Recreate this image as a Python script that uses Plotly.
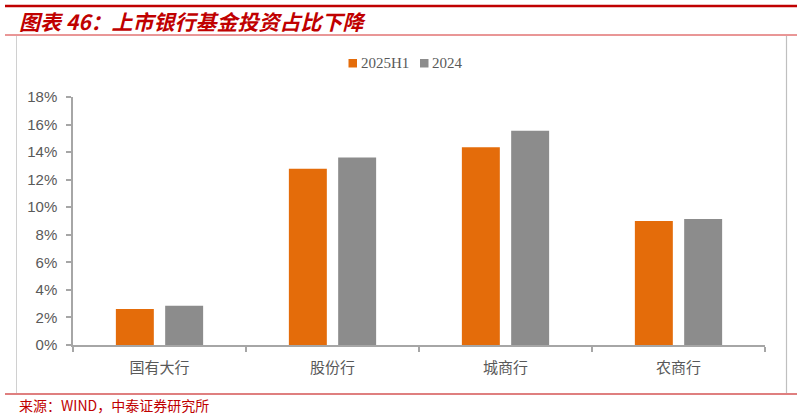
import plotly.graph_objects as go

# data (percent)
categories = ["国有大行", "股份行", "城商行", "农商行"]
h1_2025 = [2.61, 12.8, 14.35, 9.0]
y2024 = [2.85, 13.6, 15.55, 9.15]
series_names = ["2025H1", "2024"]
series_colors = ["#E46C0A", "#8C8C8C"]

W, H = 803, 417
ml, mr, mt, mb = 73, 38, 97, 72
pw, ph = W - ml - mr, H - mt - mb

RED = "#C00000"
AXIS = "#A6A6A6"
TXT = "#595959"


def px(x):
    return (x - ml) / pw


def py(y):
    return (H - mb - y) / ph


fig = go.Figure()
for name, vals, col in zip(series_names, [h1_2025, y2024], series_colors):
    fig.add_trace(go.Bar(x=categories, y=vals, name=name,
                         marker=dict(color=col, line=dict(width=0))))

fig.update_layout(
    width=W, height=H,
    margin=dict(l=ml, r=mr, t=mt, b=mb, pad=0),
    paper_bgcolor="white", plot_bgcolor="white",
    barmode="group", bargap=0.43, bargroupgap=0.23,
    showlegend=False,
    font=dict(family="Liberation Sans, Noto Sans CJK SC", size=14, color=TXT),
)

fig.update_xaxes(
    showline=True, linecolor=AXIS, linewidth=1.5,
    ticks="outside", tickson="boundaries", ticklen=5, tickcolor=AXIS, tickwidth=1.5,
    tickfont=dict(family="Noto Sans CJK SC", size=15, color=TXT),
    ticklabelstandoff=8, showgrid=False, zeroline=False,
)
fig.update_yaxes(
    range=[0, 18], tick0=0, dtick=2, ticksuffix="%",
    showline=True, linecolor=AXIS, linewidth=1.5,
    ticks="outside", ticklen=5, tickcolor=AXIS, tickwidth=1.5,
    tickfont=dict(family="Liberation Sans", size=15, color=TXT),
    ticklabelstandoff=6, showgrid=False, zeroline=False,
)

# frame of the exhibit: red rules and grey side borders
shapes = [
    dict(type="line", x0=px(5), x1=px(797), y0=py(6), y1=py(6), line=dict(color=RED, width=2.5)),
    dict(type="line", x0=px(5), x1=px(797), y0=py(35), y1=py(35), line=dict(color="#D32F2F", width=1)),
    dict(type="line", x0=px(16.5), x1=px(16.5), y0=py(36), y1=py(393), line=dict(color="#D0D0D0", width=1)),
    dict(type="line", x0=px(786.5), x1=px(786.5), y0=py(36), y1=py(393), line=dict(color="#BFBFBF", width=1.2)),
    dict(type="line", x0=px(5), x1=px(797), y0=py(394), y1=py(394), line=dict(color=RED, width=1.2)),
]
# legend drawn by hand so the square/text spacing matches
legend_x = [348.5, 420]
for lx, name, col in zip(legend_x, series_names, series_colors):
    shapes.append(dict(type="rect", x0=px(lx), x1=px(lx + 8.5), y0=py(59), y1=py(67.5),
                       fillcolor=col, line=dict(width=0)))
    fig.add_annotation(text=name, xref="paper", yref="paper", x=px(lx + 10.5), y=py(63),
                       xanchor="left", yanchor="middle", showarrow=False,
                       font=dict(family="Liberation Serif", size=15, color=TXT))
for s in shapes:
    s.update(xref="paper", yref="paper", layer="above")
fig.update_layout(shapes=shapes)

fig.add_annotation(
    text="<i><b>图表 46：上市银行基金投资占比下降</b></i>",
    xref="paper", yref="paper", x=px(17), y=py(21), xanchor="left", yanchor="middle",
    showarrow=False, font=dict(family="Noto Sans CJK SC", size=21, color=RED),
)
fig.add_annotation(
    text="来源：WIND，中泰证券研究所",
    xref="paper", yref="paper", x=px(17), y=py(405), xanchor="left", yanchor="middle",
    showarrow=False, font=dict(family="Noto Sans CJK SC", size=14, color=RED),
)

fig.write_html("out.html", config={"displayModeBar": False},
               post_script="document.body.style.margin='0';")
